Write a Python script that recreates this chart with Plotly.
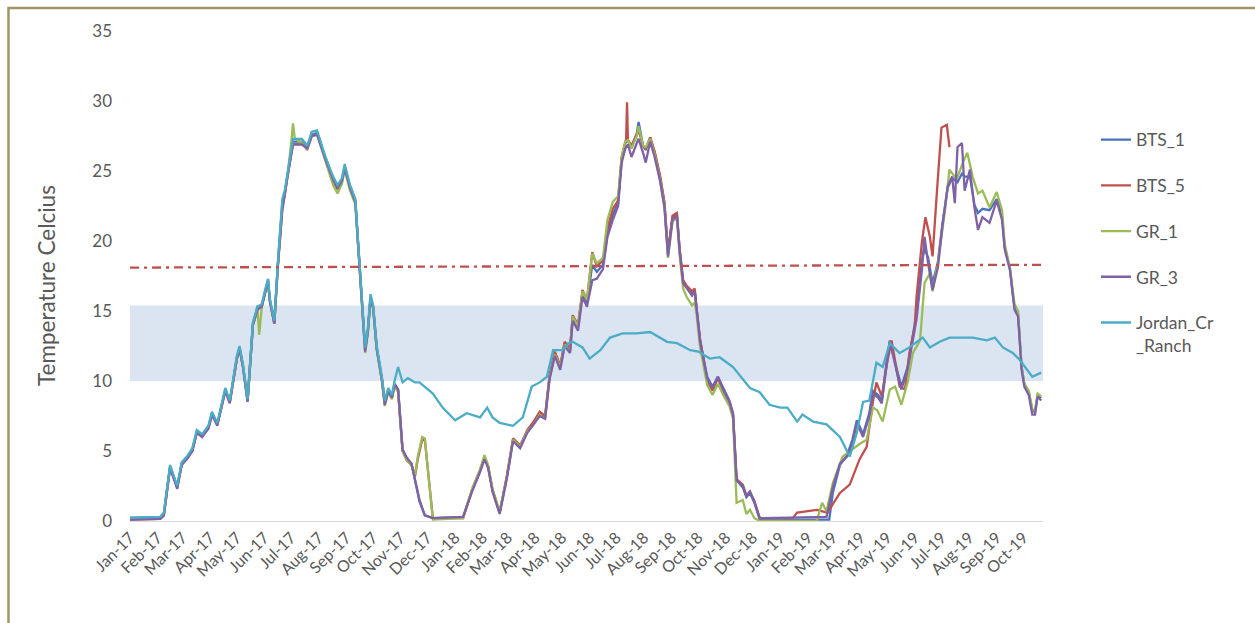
import pandas as pd
import plotly.graph_objects as go

# Water temperature loggers, daily record expressed as days since 1 Jan 2017
START = pd.Timestamp("2017-01-01")

# Shared early-2017 record (all loggers tracked together until late October 2017)
days_2017 = [0, 17, 34, 38, 45, 53, 58, 65, 70, 75, 81, 88, 92, 98, 107, 112, 120, 123, 127,
             132, 138, 143, 148, 152, 155, 157, 162, 166, 171, 174, 177, 183, 193, 199, 204,
             210, 213, 219, 228, 233, 238, 241, 247, 253, 256, 260, 264, 267, 270, 273, 277,
             283, 286, 290, 294, 297]

bts1_days = days_2017 + [
    301, 306, 311, 316, 320, 325, 331, 340, 374, 384, 393, 398, 402, 407, 415, 423, 430, 438,
    446, 452, 460, 466, 471, 477, 483, 488, 494, 497, 503, 508, 513, 519, 524, 531, 536, 542,
    548, 552, 556, 559, 563, 569, 571, 576, 579, 584, 589, 595, 600, 604, 609, 614, 617, 621,
    625, 631, 634, 636, 640, 648, 654, 660, 666, 673, 677, 681, 688, 692, 696, 701, 707, 785,
    789, 797, 805, 811, 816, 823, 830, 834, 840, 844, 850, 853, 861, 866, 873, 879, 883, 889,
    892, 896, 901, 907, 912, 918, 923, 929, 934, 937, 943, 948, 952, 957, 965, 973, 979, 982,
    988, 991, 993, 997, 1001, 1004, 1009, 1013, 1016, 1019, 1023]
bts1_temp = [
    0.2, 0.15, 0.2, 0.5, 3.9, 2.4, 4.1, 4.6, 5.1, 6.4, 6.1, 6.7, 7.7, 6.9, 9.4, 8.5, 11.7, 12.4, 11.0,
    8.6, 14.1, 15.2, 15.4, 16.5, 17.2, 15.8, 14.2, 18.3, 22.6, 23.5, 24.8, 27.1, 27.1, 26.7, 27.6,
    27.7, 27.2, 26.0, 24.5, 23.9, 24.4, 25.3, 23.9, 22.9, 19.9, 16.0, 12.3, 13.6, 16.0, 15.3, 12.4,
    10.1, 8.5, 9.4, 8.9, 9.8,
    9.4, 5.1, 4.4, 4.1, 3.0, 1.4, 0.4, 0.2, 0.3, 2.2, 3.6, 4.5, 3.9, 2.2, 0.6, 3.1, 5.8, 5.3,
    6.4, 6.9, 7.7, 7.4, 10.3, 12.0, 11.0, 12.7, 12.2, 14.6, 13.9, 16.3, 15.6, 18.3, 17.8, 18.3, 20.5, 21.9,
    22.7, 25.9, 27.0, 27.2, 26.7, 27.7, 28.5, 26.8, 26.5, 27.4, 26.3, 24.6, 22.7, 19.1, 21.7, 21.9, 19.4, 17.1,
    16.7, 16.3, 16.5, 15.1, 12.9, 10.3, 9.6, 10.3, 9.5, 8.6, 7.7, 2.9, 2.4, 1.7, 2.0, 1.3, 0.1, 0.1,
    2.0, 4.0, 4.7, 5.8, 7.2, 6.2, 7.7, 9.3, 9.0, 8.6, 11.7, 12.8, 10.8, 9.6, 11.0, 13.3, 14.8, 18.5,
    19.5, 18.8, 17.0, 18.5, 21.2, 23.8, 24.5, 24.2, 24.8, 24.6, 24.6, 22.6, 22.0, 22.3, 22.2, 23.0, 21.8, 19.6,
    18.0, 16.2, 15.3, 14.8, 11.0, 9.8, 9.2, 7.9, 7.8, 9.0, 8.8]

bts5_days = days_2017 + [
    301, 306, 311, 316, 320, 323, 328, 331, 334, 340, 374, 384, 393, 398, 402, 407, 415, 423,
    430, 438, 446, 452, 460, 466, 471, 477, 483, 488, 494, 497, 503, 508, 513, 519, 524, 531,
    536, 542, 548, 552, 556, 557, 558, 559, 563, 569, 571, 576, 579, 584, 589, 595, 600, 604,
    609, 614, 617, 621, 625, 631, 634, 636, 640, 648, 654, 660, 666, 673, 677, 681, 688, 692,
    696, 701, 707, 744, 749, 771, 783, 797, 808, 819, 827, 834, 838, 844, 850, 855, 864, 870,
    875, 881, 883, 889, 893, 898, 901, 906, 911, 917, 920]
bts5_temp = [
    0.1, 0.1, 0.15, 0.4, 3.8, 2.4, 4.0, 4.6, 5.0, 6.3, 6.1, 6.6, 7.6, 6.9, 9.3, 8.5, 11.6, 12.3, 11.0,
    8.6, 14.0, 15.1, 15.4, 16.4, 17.1, 15.7, 14.1, 18.2, 22.4, 23.4, 24.7, 26.9, 26.9, 26.6, 27.5,
    27.6, 27.1, 25.9, 24.3, 23.7, 24.3, 25.2, 23.8, 22.8, 19.8, 15.9, 12.2, 13.5, 15.9, 15.2, 12.3,
    10.0, 8.4, 9.3, 8.8, 9.7,
    9.3, 5.0, 4.3, 4.0, 3.2, 4.4, 5.8, 5.8, 4.0, 0.2, 0.2, 2.2, 3.6, 4.6, 3.9, 2.2, 0.6, 3.2,
    5.9, 5.4, 6.5, 7.0, 7.8, 7.5, 10.4, 12.1, 11.1, 12.8, 12.3, 14.7, 14.0, 16.5, 15.8, 19.2, 18.2, 18.6,
    20.9, 22.3, 22.9, 26.0, 27.0, 27.3, 29.9, 27.2, 26.8, 27.6, 27.9, 26.8, 26.6, 27.4, 26.4, 24.7, 22.8, 19.2,
    21.8, 22.0, 19.5, 17.2, 16.8, 16.4, 16.6, 15.2, 13.0, 10.0, 9.3, 10.2, 9.3, 8.5, 7.6, 3.0, 2.6, 1.8,
    2.1, 1.4, 0.2, 0.2, 0.6, 0.8, 0.6, 2.0, 2.6, 4.4, 5.3, 8.5, 9.9, 8.9, 11.3, 12.9, 9.6, 9.4,
    12.0, 13.9, 16.0, 19.9, 21.7, 20.3, 18.9, 23.6, 28.1, 28.3, 26.7]

gr1_days = [0, 17, 34, 38, 45, 53, 58, 65, 70, 75, 81, 88, 92, 98, 107, 112, 120, 123, 127,
            132, 138, 141, 143, 145, 148, 152, 155, 157, 162, 166, 171, 174, 177, 181, 183, 185,
            193, 199, 204, 210, 213, 219, 228, 233, 238, 241, 247, 253, 256, 260, 264, 267, 270,
            273, 277, 283, 286, 290, 294, 297,
            301, 306, 311, 316, 320, 323, 328, 331, 334, 340, 374, 384, 393, 398, 402, 407, 415, 423,
            430, 438, 446, 452, 460, 466, 471, 477, 483, 488, 494, 497, 503, 508, 513, 519, 524, 531,
            536, 542, 548, 552, 556, 559, 563, 569, 571, 576, 579, 584, 589, 595, 600, 604, 609, 614,
            617, 621, 625, 631, 634, 636, 640, 648, 654, 660, 666, 673, 677, 681, 688, 692, 696, 701,
            707, 771, 777, 782, 789, 800, 819, 827, 834, 839, 845, 853, 859, 866, 873, 879, 887, 889,
            892, 898, 901, 907, 915, 920, 928, 935, 940, 946, 952, 957, 965, 973, 979, 982, 988, 993,
            997, 1001, 1004, 1009, 1013, 1016, 1019, 1023]
gr1_temp = [0.15, 0.15, 0.2, 0.5, 3.9, 2.5, 4.1, 4.6, 5.1, 6.3, 6.1, 6.7, 7.6, 6.9, 9.3, 8.5, 11.6, 12.3, 11.0,
            8.6, 14.0, 14.6, 15.4, 13.3, 15.3, 16.4, 17.1, 15.7, 14.1, 18.3, 22.7, 23.5, 24.8, 27.0, 28.4, 27.3,
            27.0, 26.5, 27.5, 27.6, 27.0, 25.8, 24.0, 23.4, 24.1, 25.1, 23.6, 22.6, 19.6, 15.8, 12.0, 13.4, 15.9,
            15.1, 12.2, 9.9, 8.2, 9.2, 8.7, 9.6,
            9.2, 5.0, 4.3, 4.0, 3.3, 4.6, 6.0, 5.9, 4.1, 0.1, 0.2, 2.3, 3.7, 4.7, 4.0, 2.3, 0.7, 3.1,
            5.8, 5.3, 6.4, 6.8, 7.6, 7.3, 10.2, 11.9, 11.0, 12.6, 12.1, 14.6, 13.9, 16.4, 15.8, 19.1, 18.4, 18.8,
            21.5, 22.8, 23.2, 26.0, 27.1, 27.2, 26.6, 27.5, 28.2, 26.8, 26.7, 27.3, 26.2, 24.4, 22.5, 18.8, 21.4, 21.6,
            19.0, 16.6, 16.0, 15.4, 15.6, 14.8, 12.4, 9.7, 9.0, 9.8, 9.0, 8.2, 7.3, 1.3, 1.5, 0.5, 0.8, 0.2,
            0.0, 0.0, 1.3, 0.7, 2.7, 4.6, 5.5, 5.8, 8.1, 7.9, 7.1, 9.4, 9.6, 8.3, 9.9, 12.0, 12.9, 14.4,
            17.0, 17.7, 16.4, 18.5, 22.2, 25.1, 24.4, 25.6, 26.3, 24.6, 23.4, 23.6, 22.4, 23.5, 22.2, 19.8, 18.0, 15.5,
            15.0, 11.0, 9.8, 9.3, 8.0, 7.9, 9.1, 8.9]

gr3_days = days_2017 + [
    301, 306, 311, 316, 320, 325, 331, 340, 374, 384, 393, 398, 402, 407, 415, 423, 430, 438,
    446, 452, 460, 466, 471, 477, 483, 488, 494, 497, 503, 508, 513, 519, 524, 531, 536, 542,
    548, 552, 556, 559, 563, 569, 571, 576, 579, 584, 589, 595, 600, 604, 609, 614, 617, 621,
    625, 631, 634, 636, 640, 648, 654, 660, 666, 673, 677, 681, 688, 692, 696, 701, 707, 782,
    789, 797, 805, 811, 816, 823, 830, 834, 840, 844, 850, 853, 861, 866, 873, 879, 883, 889,
    892, 896, 901, 907, 912, 918, 923, 926, 929, 934, 937, 943, 948, 952, 957, 965, 973, 979,
    982, 988, 991, 993, 997, 1001, 1004, 1009, 1013, 1016, 1019, 1023]
gr3_temp = [
    0.1, 0.1, 0.15, 0.4, 3.8, 2.3, 4.0, 4.5, 5.0, 6.3, 6.0, 6.6, 7.6, 6.8, 9.3, 8.4, 11.6, 12.3, 10.9,
    8.5, 14.0, 15.1, 15.3, 16.4, 17.1, 15.7, 14.1, 18.2, 22.2, 23.4, 24.7, 26.9, 26.9, 26.6, 27.5,
    27.6, 27.0, 25.9, 24.4, 23.8, 24.3, 25.2, 23.8, 22.8, 19.8, 15.9, 12.1, 13.5, 15.9, 15.2, 12.3,
    10.0, 8.3, 9.3, 8.8, 9.7,
    9.4, 5.1, 4.5, 4.1, 2.9, 1.5, 0.4, 0.2, 0.3, 2.1, 3.5, 4.4, 3.8, 2.1, 0.5, 3.0, 5.7, 5.2,
    6.3, 6.8, 7.5, 7.3, 10.1, 11.8, 10.8, 12.5, 12.0, 14.3, 13.6, 16.0, 15.3, 17.2, 17.3, 18.0, 20.3, 21.5,
    22.5, 25.6, 26.6, 26.9, 26.0, 27.0, 27.3, 26.3, 25.6, 27.1, 26.0, 24.3, 22.4, 18.9, 21.5, 21.8, 19.3, 17.0,
    16.6, 16.1, 16.4, 15.0, 12.8, 10.2, 9.5, 10.3, 9.4, 8.5, 7.6, 2.9, 2.5, 1.8, 2.1, 1.4, 0.2, 0.3,
    2.4, 4.1, 4.6, 5.5, 7.0, 6.0, 7.5, 9.1, 8.8, 8.4, 11.5, 12.9, 10.6, 9.4, 10.8, 13.1, 14.4, 17.9,
    20.3, 18.4, 16.5, 18.1, 21.0, 23.9, 24.6, 22.7, 26.7, 27.0, 23.6, 25.1, 22.4, 20.8, 21.7, 21.3, 22.9, 21.5,
    19.4, 17.9, 16.0, 15.1, 14.6, 10.8, 9.6, 9.0, 7.6, 7.6, 8.9, 8.6]

jordan_days = days_2017 + [
    301, 306, 312, 320, 325, 340, 351, 365, 378, 393, 401, 407, 415, 430, 441, 451, 460, 468,
    475, 486, 492, 497, 508, 516, 528, 539, 553, 569, 584, 603, 614, 629, 638, 651, 662, 677,
    696, 707, 718, 730, 738, 749, 755, 767, 782, 797, 808, 816, 823, 830, 838, 845, 853, 864,
    875, 890, 898, 909, 920, 935, 946, 962, 971, 980, 991, 999, 1007, 1013, 1023]
jordan_temp = [
    0.25, 0.25, 0.3, 0.6, 4.0, 2.5, 4.2, 4.7, 5.2, 6.5, 6.2, 6.8, 7.8, 7.0, 9.5, 8.6, 11.8, 12.5, 11.1,
    8.7, 14.2, 15.3, 15.5, 16.6, 17.3, 15.9, 14.3, 18.5, 23.0, 23.7, 25.0, 27.3, 27.3, 26.8, 27.8,
    27.9, 27.3, 26.1, 24.6, 24.0, 24.5, 25.5, 24.0, 23.0, 20.0, 16.1, 12.4, 13.7, 16.2, 15.4, 12.5,
    10.2, 8.6, 9.5, 9.0, 10.0,
    11.0, 9.9, 10.2, 9.9, 9.9, 9.1, 8.1, 7.2, 7.7, 7.4, 8.1, 7.4, 7.0, 6.8, 7.4, 9.6, 9.9, 10.3,
    12.2, 12.2, 12.7, 12.8, 12.4, 11.6, 12.2, 13.1, 13.4, 13.4, 13.5, 12.8, 12.7, 12.2, 12.1, 11.6, 11.7, 11.0,
    9.5, 9.2, 8.3, 8.1, 8.1, 7.1, 7.6, 7.1, 6.9, 6.0, 4.6, 6.3, 8.5, 8.6, 11.3, 11.0, 12.7, 12.0,
    12.4, 13.1, 12.4, 12.8, 13.1, 13.1, 13.1, 12.9, 13.1, 12.4, 12.0, 11.5, 10.8, 10.3, 10.6]

# 18 °C criterion line (start and end of record) and the 10–15.4 °C target band
criterion_days = [0, 1025]
criterion_temp = [18.1, 18.3]
band_low, band_high = 10, 15.4

series = [
    ("BTS_1", bts1_days, bts1_temp, "#4a72b8"),
    ("BTS_5", bts5_days, bts5_temp, "#c0504d"),
    ("GR_1", gr1_days, gr1_temp, "#9bbb59"),
    ("GR_3", gr3_days, gr3_temp, "#7f62a6"),
    ("Jordan_Cr<br>_Ranch", jordan_days, jordan_temp, "#4bacc6"),
]


def to_dates(days):
    return [START + pd.Timedelta(days=d) for d in days]


TEXT = "#595959"
FONT = "Lato"

fig = go.Figure()
for name, days, temps, color in series:
    fig.add_trace(go.Scatter(
        x=to_dates(days), y=temps, mode="lines", name=name,
        legendgroup=name, line=dict(color=color, width=2.3),
    ))

fig.add_trace(go.Scatter(
    x=to_dates(criterion_days), y=criterion_temp, mode="lines", showlegend=False,
    hoverinfo="skip", line=dict(color="#c0504d", width=2.3, dash="9px,5px,3px,5px"),
))

x_end = START + pd.Timedelta(days=1025)

fig.update_layout(
    width=1255, height=623,
    margin=dict(l=130, r=212, t=31, b=102),
    paper_bgcolor="white", plot_bgcolor="white",
    font=dict(family=FONT, color=TEXT),
    legend=dict(
        x=1.058, y=0.815, xanchor="left", yanchor="top",
        font=dict(size=17.5, color=TEXT), tracegroupgap=20,
        traceorder="grouped", valign="top", bgcolor="rgba(0,0,0,0)",
    ),
    shapes=[
        dict(type="rect", xref="paper", yref="y", x0=0, x1=1, y0=band_low, y1=band_high,
             fillcolor="#dbe4f1", line=dict(width=0), layer="below"),
        dict(type="rect", xref="paper", yref="paper",
             x0=(8.5 - 130) / 913, x1=1.25, y0=(521 - 8) / 490, y1=-0.25,
             line=dict(color="#a09569", width=2.5), fillcolor="rgba(0,0,0,0)"),
    ],
    annotations=[
        dict(text="Temperature Celcius", textangle=-90, showarrow=False,
             xref="paper", yref="paper", x=(46 - 130) / 913, y=(521 - 286) / 490,
             xanchor="center", yanchor="middle",
             font=dict(size=22.5, color=TEXT, family=FONT)),
    ],
)

fig.update_xaxes(
    type="date", range=[START, x_end],
    tick0="2017-01-01", dtick="M1", tickformat="%b-%y", tickangle=-45,
    tickfont=dict(size=16, color=TEXT),
    showgrid=False, zeroline=False,
    showline=True, linecolor="#d9d9d9", linewidth=1, ticks="",
)
fig.update_yaxes(
    range=[0, 35], dtick=5, tick0=0,
    tickfont=dict(size=17, color=TEXT), ticklabelstandoff=17,
    showgrid=False, zeroline=False, showline=False, ticks="",
)

fig.write_html("out.html")
